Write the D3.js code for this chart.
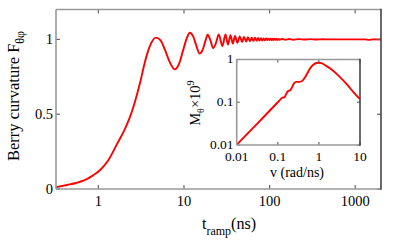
<!DOCTYPE html>
<html><head><meta charset="utf-8">
<script src="https://cdn.jsdelivr.net/npm/d3@7"></script>
<style>
html,body{margin:0;padding:0;background:#fff;}
svg text{font-family:"Liberation Serif","Times New Roman",serif;fill:#000;}
</style></head>
<body><svg id="c" width="418" height="246"></svg>
<script>
// Main curve: Berry curvature F_θφ vs t_ramp (ns)
const mainT = [0.32,0.43,0.55,0.68,0.85,1.05,1.3,1.65,2.0,2.3,2.57,2.85,3.1,3.4,3.7,4.1,4.7,5.3,6.0,6.8,7.8,8.8,9.8,10.8,11.7,12.8,13.9,15.2,16.5,17.8,18.9,20.2,21.9,23.6,25.5,
  28.1,30.5,32.7,34.9,37.2,39.4,42.0,44.9,47.8,50.3,53.4,55.7,59.1,61.7,64.6,67.5,70.4,73.3,76.2,79.1,82.0,85.0,88.0,91.0,94.0,97.0,100,103,106,109,112,115,118,121,124,127,130,
  140,155,170,190,220,260,300,350,420,500,700,1000,1300,1450,1600,2000];
const mainF = [0.012,0.027,0.04,0.057,0.088,0.127,0.19,0.30,0.39,0.47,0.55,0.64,0.72,0.82,0.90,0.97,1.012,0.995,0.93,0.85,0.80,0.84,0.93,1.01,1.045,1.02,0.96,0.905,0.93,0.99,1.031,1.0,0.942,0.975,1.033,
  0.955,1.033,0.965,1.028,0.972,1.024,0.978,1.02,0.982,1.017,0.985,1.015,0.988,1.012,0.99,1.011,0.991,1.009,0.992,1.008,0.993,1.007,0.994,1.006,0.995,1.005,0.995,1.005,0.996,1.004,0.996,1.004,0.997,1.003,0.997,1.003,0.998,
  1.003,0.998,1.003,0.998,1.002,0.999,1.002,0.999,1.001,1.0,1.0,1.0,1.0,0.997,1.0,0.999];

// Inset: M_θ × 10^9 vs v (rad/ns)
const insetV = [0.01,0.03,0.06,0.1,0.12,0.13,0.145,0.16,0.18,0.2,0.22,0.25,0.28,0.33,0.38,0.45,0.55,0.65,0.8,0.95,1.15,1.5,2,3,5,7,10];
const insetM = [0.0102,0.03,0.06,0.1,0.12,0.128,0.13,0.155,0.185,0.19,0.22,0.28,0.30,0.30,0.31,0.37,0.52,0.67,0.80,0.84,0.82,0.71,0.59,0.42,0.25,0.17,0.118];

const mainXTicks = [1,10,100,1000];
const mainXLabels = ["1","10","100","1000"];
const mainYTicks = [0,0.5,1];
const mainYLabels = ["0","0.5","1"];
const insetXTicks = [0.01,0.1,1,10];
const insetXLabels = ["0.01","0.1","1","10"];
const insetYTicks = [0.01,0.1,1];
const insetYLabels = ["0.01","0.1","1"];

const svg = d3.select("#c");
const red = "#ff0000";

function drawFrame(g, x, y, xt, xl, yt, yl, opts){
  const [x0,x1] = x.range(), [y0,y1] = y.range();
  const tl = opts.tick;
  xt.forEach(v=>{
    g.append("line").attr("x1",x(v)).attr("x2",x(v)).attr("y1",y0).attr("y2",y0-tl).attr("stroke","#666").attr("stroke-width",1.2);
    g.append("line").attr("x1",x(v)).attr("x2",x(v)).attr("y1",y1).attr("y2",y1+tl).attr("stroke","#666").attr("stroke-width",1.2);
  });
  yt.forEach(v=>{
    g.append("line").attr("x1",x0).attr("x2",x0+tl).attr("y1",y(v)).attr("y2",y(v)).attr("stroke","#666").attr("stroke-width",1.2);
    g.append("line").attr("x1",x1).attr("x2",x1-tl).attr("y1",y(v)).attr("y2",y(v)).attr("stroke","#666").attr("stroke-width",1.2);
  });
  g.append("line").attr("x1",x0).attr("x2",x1).attr("y1",y1).attr("y2",y1).attr("stroke","#999").attr("stroke-width",1.6);
  g.append("line").attr("x1",x0).attr("x2",x1).attr("y1",y0).attr("y2",y0).attr("stroke","#999").attr("stroke-width",1.6);
  g.append("line").attr("x1",x0).attr("x2",x0).attr("y1",y0).attr("y2",y1).attr("stroke","#999").attr("stroke-width",1.6);
  g.append("line").attr("x1",x1).attr("x2",x1).attr("y1",y0+0.8).attr("y2",y1-0.8).attr("stroke","#444").attr("stroke-width",1.6);
  xt.forEach((v,i)=>{
    g.append("text").attr("x",x(v)).attr("y",opts.xLabY).attr("text-anchor","middle").attr("font-size",opts.fs).text(xl[i]);
  });
  yt.forEach((v,i)=>{
    g.append("text").attr("x",opts.yLabX).attr("y",y(v)+opts.fs*opts.yOff).attr("text-anchor","end").attr("font-size",opts.fs).text(yl[i]);
  });
}

// ---- Main plot
const mx = d3.scaleLog().domain([0.32,2000]).range([56,381]);
const my = d3.scaleLinear().domain([0,1.2]).range([189,9.5]);
const gm = svg.append("g");
gm.append("rect").attr("x",56).attr("y",9.5).attr("width",325).attr("height",179.5).attr("fill","#fff");
const mainData = mainT.map((t,i)=>[t,mainF[i]]);
gm.append("path").datum(mainData)
  .attr("d", d3.line().x(d=>mx(d[0])).y(d=>my(d[1])).curve(d3.curveMonotoneX))
  .attr("fill","none").attr("stroke",red).attr("stroke-width",1.9);
drawFrame(gm, mx, my, mainXTicks, mainXLabels, mainYTicks, mainYLabels, {tick:4, xLabY:206, yLabX:53, fs:14.5, yOff:0.34});

// x label t_ramp(ns)
const xl = svg.append("text").attr("x",229).attr("y",229).attr("text-anchor","middle").attr("font-size",16);
xl.append("tspan").text("t");
xl.append("tspan").attr("font-size",12).attr("dy",6).text("ramp");
xl.append("tspan").attr("dy",-6).text("(ns)");

// y label Berry curvature F_θφ
const yl = svg.append("text").attr("transform","translate(19,96) rotate(-90)").attr("text-anchor","middle").attr("font-size",16.5);
yl.append("tspan").text("Berry curvature  F");
yl.append("tspan").attr("font-size",12).attr("dy",5).text("θφ");

// ---- Inset
const ix = d3.scaleLog().domain([0.01,10]).range([236.7,360]);
const iy = d3.scaleLog().domain([0.01,1]).range([145,59.5]);
const gi = svg.append("g");
gi.append("rect").attr("x",236.7).attr("y",59.5).attr("width",123.3).attr("height",85.5).attr("fill","#fff");
const insetData = insetV.map((v,i)=>[v,insetM[i]]);
gi.append("path").datum(insetData)
  .attr("d", d3.line().x(d=>ix(d[0])).y(d=>iy(d[1])).curve(d3.curveMonotoneX))
  .attr("fill","none").attr("stroke",red).attr("stroke-width",1.9);
drawFrame(gi, ix, iy, insetXTicks, insetXLabels, insetYTicks, insetYLabels, {tick:3, xLabY:161, yLabX:233.5, fs:13.5, yOff:0.28});

svg.append("text").attr("x",297).attr("y",177).attr("text-anchor","middle").attr("font-size",14).text("v (rad/ns)");

const il = svg.append("text").attr("transform","translate(200,103) rotate(-90)").attr("text-anchor","middle").attr("font-size",14.5);
il.append("tspan").text("M");
il.append("tspan").attr("font-size",10).attr("dy",4).text("θ");
il.append("tspan").attr("dy",-4).text("×10");
il.append("tspan").attr("font-size",10.5).attr("dy",-6).text("9");
</script></body></html>
